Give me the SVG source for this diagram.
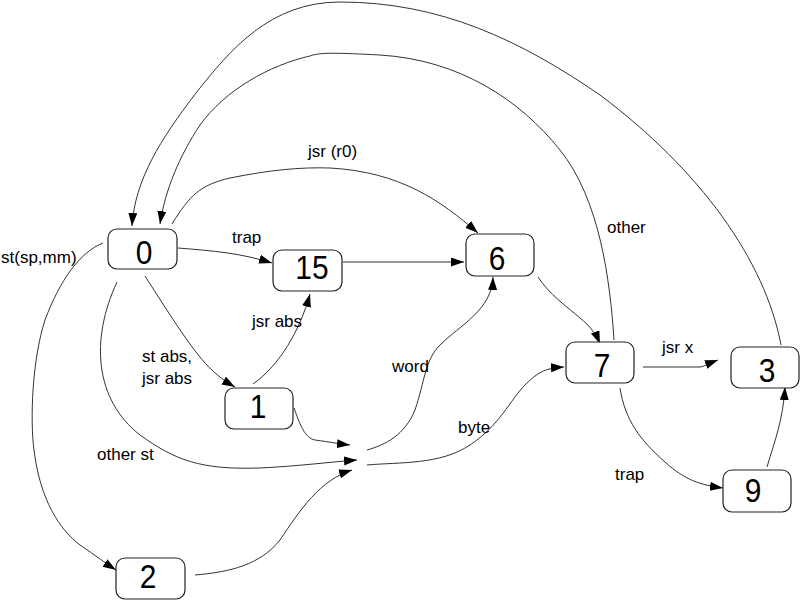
<svg xmlns="http://www.w3.org/2000/svg" width="800" height="600" viewBox="0 0 800 600">
<defs>
<marker id="ah" markerUnits="userSpaceOnUse" markerWidth="14" markerHeight="10" refX="13" refY="4.5" orient="auto">
<path d="M0,0 L13,4.5 L0,9 z" fill="#000"/>
</marker>
<style>
.n rect{fill:#fff;stroke:#222;stroke-width:1.2}
.n text{font-family:"Liberation Sans",Arial,sans-serif;font-size:34px;fill:#000;text-anchor:middle}
.e path{fill:none;stroke:#333;stroke-width:1;marker-end:url(#ah)}
.l{font-family:"Liberation Sans",Arial,sans-serif;font-size:17px;fill:#000}
</style>
</defs>
<rect width="800" height="600" fill="#fff"/>
<g id="connectors" class="e">
<path d="M 781 345 C 765 260, 700 170, 600 95 C 520 40, 440 2, 340 2 C 270 2, 230 50, 196 93 C 160 140, 135 180, 132 226"/>
<path d="M 614 340 C 610 280, 600 200, 560 150 C 520 100, 460 60, 380 55 C 340 53, 320 52, 310 56 C 270 65, 225 90, 200 125 C 180 155, 165 190, 160 224"/>
<path d="M 172 224 C 190 195, 200 185, 230 178 C 270 170, 300 167, 330 168 C 400 172, 440 200, 478 233"/>
<path d="M 178 248 C 215 251, 240 253, 272 263"/>
<path d="M 343 262 L 464 262"/>
<path d="M 145 276 C 170 315, 195 355, 212 370 C 220 378, 228 383, 235 387"/>
<path d="M 253 384 C 280 365, 300 330, 310 294"/>
<path d="M 294 408 C 300 425, 305 438, 315 440 C 330 442, 340 444, 350 445"/>
<path d="M 117 282 C 90 340, 95 400, 140 435 C 175 460, 200 470, 260 468 C 300 466, 330 462, 357 460"/>
<path d="M 103 243 C 80 252, 60 280, 45 320 C 32 360, 30 420, 34 450 C 40 500, 60 530, 80 545 C 95 555, 105 563, 116 570"/>
<path d="M 195 575 C 230 572, 260 565, 280 540 C 300 510, 320 480, 352 470"/>
<path d="M 367 450 C 385 445, 405 435, 415 410 C 425 380, 425 360, 440 345 C 460 325, 492 310, 493 277"/>
<path d="M 367 465 C 400 462, 440 465, 470 445 C 500 425, 510 400, 525 385 C 538 372, 545 368, 564 367"/>
<path d="M 538 277 C 550 295, 565 305, 580 318 C 590 326, 596 334, 600 344"/>
<path d="M 643 367 L 700 367 C 706 366, 710 363, 718 360"/>
<path d="M 620 388 C 625 420, 640 440, 665 462 C 685 480, 700 485, 723 488"/>
<path d="M 767 467 C 775 440, 783 420, 785 387"/>
</g>
<g id="labels">
<text class="l" x="1" y="263">st(sp,mm)</text>
<text class="l" x="308" y="157">jsr (r0)</text>
<text class="l" x="232" y="243">trap</text>
<text class="l" x="252" y="327">jsr abs</text>
<text class="l" x="142" y="362">st abs,</text>
<text class="l" x="142" y="384">jsr abs</text>
<text class="l" x="97" y="460">other st</text>
<text class="l" x="392" y="372">word</text>
<text class="l" x="458" y="433">byte</text>
<text class="l" x="607" y="233">other</text>
<text class="l" x="662" y="353">jsr x</text>
<text class="l" x="615" y="480">trap</text>
</g>
<g id="node0" class="n"><rect x="108" y="229" width="69" height="40" rx="9"/><text transform="translate(144,264) scale(0.88,1)">0</text></g>
<g id="node15" class="n"><rect x="273" y="250" width="69" height="41" rx="9"/><text transform="translate(312,279) scale(0.88,1)">15</text></g>
<g id="node1" class="n"><rect x="225" y="388" width="68" height="41" rx="9"/><text transform="translate(258,418) scale(0.88,1)">1</text></g>
<g id="node2" class="n"><rect x="116" y="558" width="69" height="41" rx="9"/><text transform="translate(148,588) scale(0.88,1)">2</text></g>
<g id="node6" class="n"><rect x="466" y="234" width="68" height="42" rx="9"/><text transform="translate(497,270) scale(0.88,1)">6</text></g>
<g id="node7" class="n"><rect x="566" y="342" width="68" height="41" rx="9"/><text transform="translate(602,377) scale(0.88,1)">7</text></g>
<g id="node3" class="n"><rect x="731" y="347" width="68" height="41" rx="9"/><text transform="translate(767,382) scale(0.88,1)">3</text></g>
<g id="node9" class="n"><rect x="723" y="470" width="68" height="42" rx="9"/><text transform="translate(753,502) scale(0.88,1)">9</text></g>
</svg>
